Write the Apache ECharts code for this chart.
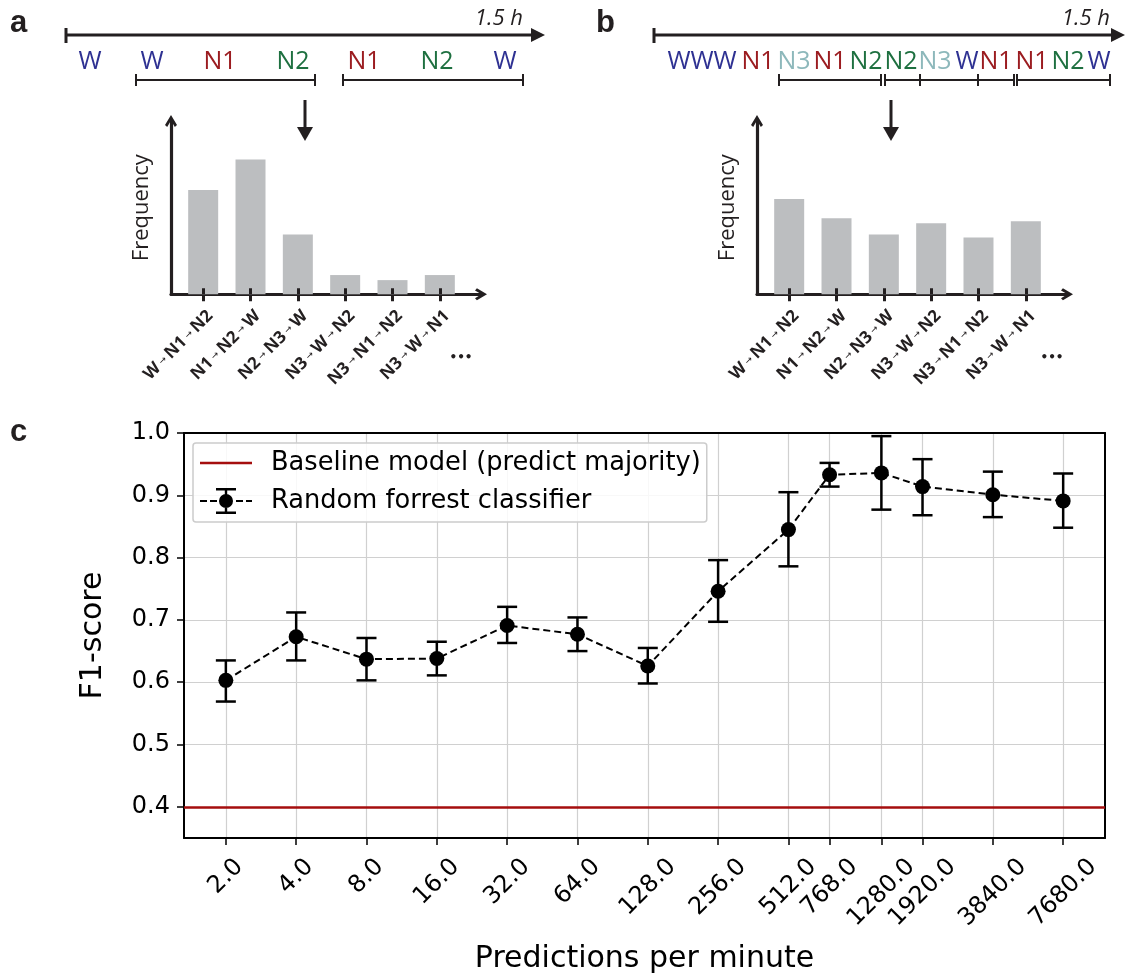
<!DOCTYPE html>
<html>
<head>
<meta charset="utf-8">
<script src="https://cdn.jsdelivr.net/npm/echarts@6/dist/echarts.min.js"></script>
<style>
  html, body { margin: 0; padding: 0; background: #fff; }
  #chart { width: 1126px; height: 975px; }
</style>
</head>
<body>
<div id="chart"></div>
<script>
// ---- panels a / b : schematic transition histograms ----
const transitions = [["W", "N1", "N2"], ["N1", "N2", "W"], ["N2", "N3", "W"], ["N3", "W", "N2"], ["N3", "N1", "N2"], ["N3", "W", "N1"]];
const freqA = [10.3, 13.3, 5.9, 1.9, 1.4, 1.9];
const freqB = [9.4, 7.5, 5.9, 7.0, 5.6, 7.2];
const stagesA = ["W", "W", "N1", "N2", "N1", "N2", "W"];
const stagesB = ["W", "W", "W", "N1", "N3", "N1", "N2", "N2", "N3", "W", "N1", "N1", "N2", "W"];

// ---- panel c : F1-score vs prediction rate ----
const rates = [2, 4, 8, 16, 32, 64, 128, 256, 512, 768, 1280, 1920, 3840, 7680];
const rateLabels = ["2.0", "4.0", "8.0", "16.0", "32.0", "64.0", "128.0", "256.0", "512.0", "768.0", "1280.0", "1920.0", "3840.0", "7680.0"];
const f1Mean = [0.603, 0.673, 0.637, 0.638, 0.691, 0.677, 0.626, 0.746, 0.845, 0.933, 0.936, 0.914, 0.901, 0.891];
const f1Low = [0.569, 0.635, 0.603, 0.611, 0.663, 0.650, 0.598, 0.697, 0.786, 0.914, 0.877, 0.868, 0.865, 0.848];
const f1High = [0.635, 0.712, 0.671, 0.665, 0.721, 0.704, 0.655, 0.796, 0.905, 0.952, 0.995, 0.958, 0.938, 0.935];
const baselineF1 = 0.403;
const yTicks = [0.4, 0.5, 0.6, 0.7, 0.8, 0.9, 1.0];

const ink = "#231f20";
const stageColor = { W: "#2e3192", N1: "#9b1c20", N2: "#1e7040", N3: "#8db8bb" };
const chevron = "path://M5,0 L10,8.4 L8.2,10 L5,4.6 L1.8,10 L0,8.4 Z";
const labelShift = 0.15;
const measure = document.createElement("canvas").getContext("2d");
measure.font = '24px "DejaVu Sans"';

const chart = echarts.init(document.getElementById("chart"));

// ---- decoration: hypnogram timelines, arrows, panel letters ----
const g = [];
function seg(x1, y1, x2, y2, w) {
  g.push({ type: "line", shape: { x1, y1, x2, y2 }, style: { stroke: ink, lineWidth: w } });
}
function tri(points) {
  g.push({ type: "polygon", shape: { points }, style: { fill: ink } });
}
function txt(x, y, s, font, fill, align) {
  g.push({ type: "text", x, y, style: { text: s, font, fill, align: align || "center", verticalAlign: "middle" } });
}
function bracket(x1, x2, inner) {
  seg(x1, 80, x2, 80, 2);
  [x1, x2].concat(inner || []).forEach((x) => seg(x, 74, x, 86, 2));
}
function timeline(x0, tip, labelRight, stages, xs) {
  seg(x0, 35, tip - 12, 35, 3);
  seg(x0, 28, x0, 43, 3);
  tri([[tip, 35], [tip - 14, 28], [tip - 14, 42]]);
  txt(labelRight, 19, "1.5 h", 'italic 22px "Open Sans"', ink, "right");
  stages.forEach((s, i) => txt(xs[i], 62, s, '25px "Open Sans"', stageColor[s]));
}
function downArrow(x) {
  seg(x, 100, x, 128, 3);
  tri([[x, 141], [x - 8, 127], [x + 8, 127]]);
}

timeline(66, 545, 523, stagesA, [90, 152, 220, 293, 364, 437, 505]);
bracket(136, 315);
bracket(343, 523);
downArrow(305);

timeline(654, 1125, 1110, stagesB, [679, 702, 725, 758, 794, 830, 866, 901, 935, 967, 996, 1032, 1068, 1099]);
bracket(779, 881);
bracket(885, 1014, [920, 978]);
bracket(1017, 1110);
downArrow(891);

txt(461, 358, "•••", 'bold 12px "DejaVu Sans"', ink);
txt(1052, 358, "•••", 'bold 12px "DejaVu Sans"', ink);

txt(10, 23, "a", 'bold 31px "Liberation Sans"', ink, "left");
txt(596, 23, "b", 'bold 31px "Liberation Sans"', ink, "left");
txt(10, 432, "c", 'bold 31px "Liberation Sans"', ink, "left");

// ---- axes ----
function histX(gridIndex) {
  return [
    {
      gridIndex, type: "value", min: -0.68, max: 5.87,
      axisLine: { show: true, onZero: false, symbol: ["none", chevron], symbolSize: [13, 12], lineStyle: { color: ink, width: 3.2 } },
      axisTick: { show: true, customValues: [0, 1, 2, 3, 4, 5], length: 7, lineStyle: { color: ink, width: 3 } },
      axisLabel: {
        customValues: transitions.map((t, i) => i + labelShift),
        formatter: (v) => transitions[Math.round(v - labelShift)].map((s) => "{b|" + s + "}").join("{a| → }"),
        rotate: 45, margin: 19, color: ink,
        rich: {
          b: { fontFamily: "Open Sans", fontWeight: "bold", fontSize: 17, color: ink },
          a: { fontFamily: "DejaVu Sans", fontSize: 9, color: ink },
        },
      },
      splitLine: { show: false },
    },
    {
      gridIndex, type: "value", min: -0.68, max: 5.87, position: "bottom", z: 5,
      axisLine: { show: false },
      axisTick: { show: true, inside: true, customValues: [0, 1, 2, 3, 4, 5], length: 6, lineStyle: { color: ink, width: 3 } },
      axisLabel: { show: false },
      splitLine: { show: false },
    },
  ];
}
function histY(gridIndex) {
  return {
    gridIndex, type: "value", min: 0, max: 17.1,
    axisLine: { show: true, onZero: false, symbol: ["none", chevron], symbolSize: [13, 12], lineStyle: { color: ink, width: 3.2 } },
    axisTick: { show: false },
    axisLabel: { show: false },
    splitLine: { show: false },
    name: "Frequency", nameLocation: "middle", nameGap: 18,
    nameTextStyle: { fontFamily: "Open Sans", fontSize: 22, color: ink },
  };
}

const xMin = 1.324, xMax = 11600, yMin = 0.35, yMax = 1.0;

const option = {
  animation: false,
  backgroundColor: "#fff",
  textStyle: { fontFamily: "DejaVu Sans" },
  graphic: g,
  grid: [
    { left: 171, top: 121, width: 310, height: 173.3 },
    { left: 757, top: 121, width: 310, height: 173.3 },
    { left: 184, top: 433, width: 921, height: 405 },
  ],
  xAxis: [
    ...histX(0),
    ...histX(1),
    {
      gridIndex: 2, type: "log", logBase: 2, min: xMin, max: xMax,
      axisLine: { show: true, lineStyle: { color: "#000", width: 2 } },
      axisTick: { show: true, customValues: rates, length: 7, lineStyle: { color: "#000", width: 1.5 } },
      axisLabel: { show: false },
      splitLine: { show: true, lineStyle: { color: "#d0d0d0", width: 1.2 } },
      name: "Predictions per minute", nameLocation: "middle", nameGap: 106,
      nameTextStyle: { fontSize: 30, color: "#000" },
    },
    {
      gridIndex: 2, type: "log", logBase: 2, min: xMin, max: xMax, position: "top", z: 1,
      axisLine: { show: true, lineStyle: { color: "#000", width: 2 } },
      axisTick: { show: false }, axisLabel: { show: false }, splitLine: { show: false },
    },
  ],
  yAxis: [
    histY(0),
    histY(1),
    {
      gridIndex: 2, type: "value", min: yMin, max: yMax,
      axisLine: { show: true, lineStyle: { color: "#000", width: 2 } },
      axisTick: { show: true, customValues: yTicks, length: 7, lineStyle: { color: "#000", width: 1.5 } },
      axisLabel: { customValues: yTicks, formatter: (v) => v.toFixed(1), fontSize: 24, color: "#000", margin: 14 },
      splitLine: { show: true, lineStyle: { color: "#d0d0d0", width: 1.2 } },
      name: "F1-score", nameLocation: "middle", nameGap: 76,
      nameTextStyle: { fontSize: 30, color: "#000" },
    },
    {
      gridIndex: 2, type: "value", min: yMin, max: yMax, position: "right", z: 1,
      axisLine: { show: true, lineStyle: { color: "#000", width: 2 } },
      axisTick: { show: false }, axisLabel: { show: false }, splitLine: { show: false },
    },
  ],
  legend: {
    left: 193, top: 443, orient: "vertical",
    data: [
      { name: "Baseline model (predict majority)", icon: "path://M0 0 L0.01 0 L0 0.01 Z M52 26 L51.99 26 L52 25.99 Z M0 11.8 H52 V14.2 H0 Z" },
      { name: "Random forrest classifier", icon: "path://M0 12 H7 V14 H0 Z M10 12 H17 V14 H10 Z M36 12 H43 V14 H36 Z M46 12 H52 V14 H46 Z M16 0 H36 V2.4 H16 Z M24.8 2.4 H27.2 V6.5 H24.8 Z M24.8 19.5 H27.2 V23.6 H24.8 Z M16 23.6 H36 V26 H16 Z M19 13 A7 7 0 1 1 33 13 A7 7 0 1 1 19 13 Z" },
    ],
    itemWidth: 52, itemHeight: 26, itemGap: 12,
    itemStyle: { borderWidth: 0 },
    padding: [7, 6, 8, 7],
    backgroundColor: "rgba(255,255,255,0.85)",
    borderColor: "#cccccc", borderWidth: 1.5, borderRadius: 3,
    textStyle: { fontSize: 25.7, color: "#000", padding: [0, 0, 0, 14] },
    selectedMode: false,
  },
  series: [
    {
      type: "bar", xAxisIndex: 0, yAxisIndex: 0, barWidth: 30,
      itemStyle: { color: "#bcbec0" },
      data: freqA.map((v, i) => [i, v]),
    },
    {
      type: "bar", xAxisIndex: 2, yAxisIndex: 1, barWidth: 30,
      itemStyle: { color: "#bcbec0" },
      data: freqB.map((v, i) => [i, v]),
    },
    {
      name: "Baseline model (predict majority)",
      type: "line", xAxisIndex: 4, yAxisIndex: 2, color: "#a50e0e",
      data: [],
      markLine: {
        silent: true, symbol: ["none", "none"], label: { show: false },
        lineStyle: { color: "#a50e0e", width: 2.5, type: "solid" },
        data: [{ yAxis: baselineF1 }],
      },
    },
    {
      // error bars
      type: "custom", xAxisIndex: 4, yAxisIndex: 2, z: 3, silent: true,
      data: rates.map((r, i) => [r, f1Low[i], f1High[i]]),
      renderItem(params, api) {
        const lo = api.coord([api.value(0), api.value(1)]);
        const hi = api.coord([api.value(0), api.value(2)]);
        const style = { stroke: "#000", lineWidth: 2.5, fill: null };
        return {
          type: "group",
          children: [
            { type: "line", shape: { x1: lo[0], y1: lo[1], x2: hi[0], y2: hi[1] }, style },
            { type: "line", shape: { x1: lo[0] - 10, y1: lo[1], x2: lo[0] + 10, y2: lo[1] }, style },
            { type: "line", shape: { x1: hi[0] - 10, y1: hi[1], x2: hi[0] + 10, y2: hi[1] }, style },
          ],
        };
      },
    },
    {
      name: "Random forrest classifier",
      type: "line", xAxisIndex: 4, yAxisIndex: 2, z: 4,
      color: "#000",
      symbol: "circle", symbolSize: 15,
      lineStyle: { color: "#000", width: 2, type: [7, 4] },
      data: rates.map((r, i) => [r, f1Mean[i]]),
    },
    {
      // rotated tick labels, centred under each tick like the original
      type: "custom", xAxisIndex: 4, yAxisIndex: 2, silent: true, clip: false,
      data: rates.map((r, i) => [r, i]),
      renderItem(params, api) {
        const p = api.coord([api.value(0), yMin]);
        const s = rateLabels[api.value(1)];
        const w = measure.measureText(s).width;
        return {
          type: "text", x: p[0] + w * 0.3536, y: p[1] + 25, rotation: Math.PI / 4,
          style: { text: s, font: '24px "DejaVu Sans"', fill: "#000", align: "right", verticalAlign: "middle" },
        };
      },
    },
  ],
};

chart.setOption(option);
</script>
</body>
</html>
